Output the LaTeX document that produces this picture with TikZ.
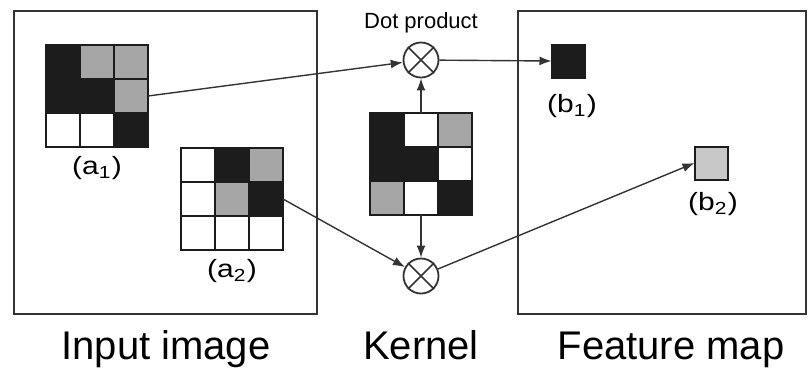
\documentclass[tikz,border=0pt]{standalone}
\usepackage{fontspec}
\setmainfont{Liberation Sans}
\usetikzlibrary{arrows.meta}
\definecolor{pk}{HTML}{1C1C1C}
\definecolor{pg}{HTML}{A6A6A6}
\definecolor{pl}{HTML}{C8C8C8}
\definecolor{ln}{HTML}{333333}
\tikzset{
  frame/.style={draw=ln, line width=1pt},
  cell/.style={draw=pk, line width=1.1pt, minimum size=17pt, inner sep=0pt, outer sep=0pt},
  patch/.style={draw=pk, line width=1.1pt, minimum size=51pt, inner sep=0pt, outer sep=0pt},
  pix/.style={draw=pk, line width=1pt, minimum size=16.5pt, inner sep=0pt, outer sep=0pt},
  dot/.style={circle, draw=ln, line width=0.9pt, minimum size=17.5pt, inner sep=0pt},
  arr/.style={draw=ln, line width=0.7pt, -{Latex[length=6pt,width=4.5pt]}},
  lab/.style={font=\fontsize{12.5}{14}\selectfont, inner sep=0pt},
  title/.style={font=\fontsize{20}{24}\selectfont, inner sep=0pt, anchor=base}
}
\newcommand{\widelab}[1]{\scalebox{1.2}[1]{#1}}

\begin{document}
\begin{tikzpicture}[x=0.5pt,y=-0.5pt]
\useasboundingbox (0,0) rectangle (808,372);
% outer frames
\draw[frame] (14,11) rectangle (317,314);
\draw[frame] (518,11) rectangle (806,314);
% 3x3 patches and kernel
\foreach \name/\cx/\cy/\cols in {
  a1/97/96/{pk,pg,pg,pk,pk,pg,white,white,pk},
  a2/232/199/{white,pk,pg,white,pg,pk,white,white,white},
  k/421/164/{pk,white,pg,pk,pk,white,pg,white,pk}} {
  \foreach \c [count=\i from 0] in \cols {
    \pgfmathtruncatemacro\row{int(\i/3)}
    \pgfmathtruncatemacro\col{mod(\i,3)}
    \node[cell, fill=\c] (\name-\i) at (\cx+\col*34-34,\cy+\row*34-34) {};
  }
  \node[patch] (\name) at (\cx,\cy) {};
}
% outputs
\node[pix, fill=pk] (b1) at (568,61) {};
\node[pix, fill=pl] (b2) at (711,163) {};
% dot products
\node[dot] (t) at (421,60) {};
\node[dot] (d) at (421,276) {};
\draw[ln, line width=0.8pt] (t.north east) -- (t.south west) (t.north west) -- (t.south east);
\draw[ln, line width=0.8pt] (d.north east) -- (d.south west) (d.north west) -- (d.south east);
% connectors
\draw[arr] (a1.east) -- (t);
\draw[arr] (a2.east) -- (d);
\draw[arr] (k) -- (t);
\draw[arr] (k) -- (d);
\draw[arr] (t) -- (b1.west);
\draw[arr] (d) -- (b2.west);
% labels
\node[font=\fontsize{11}{13}\selectfont, inner sep=0pt, anchor=base] (dp) at (421,28) {Dot product};
\node[lab] (la1) at (97,168) {\widelab{(a\textsubscript{1})}};
\node[lab] (la2) at (232,271) {\widelab{(a\textsubscript{2})}};
\node[lab] (lb1) at (572,106) {\widelab{(b\textsubscript{1})}};
\node[lab] (lb2) at (713,204) {\widelab{(b\textsubscript{2})}};
\node[title] (tin) at (166,359) {Input image};
\node[title] (tk) at (421,359) {Kernel};
\node[title] (tf) at (671,359) {Feature map};
\end{tikzpicture}
\end{document}
